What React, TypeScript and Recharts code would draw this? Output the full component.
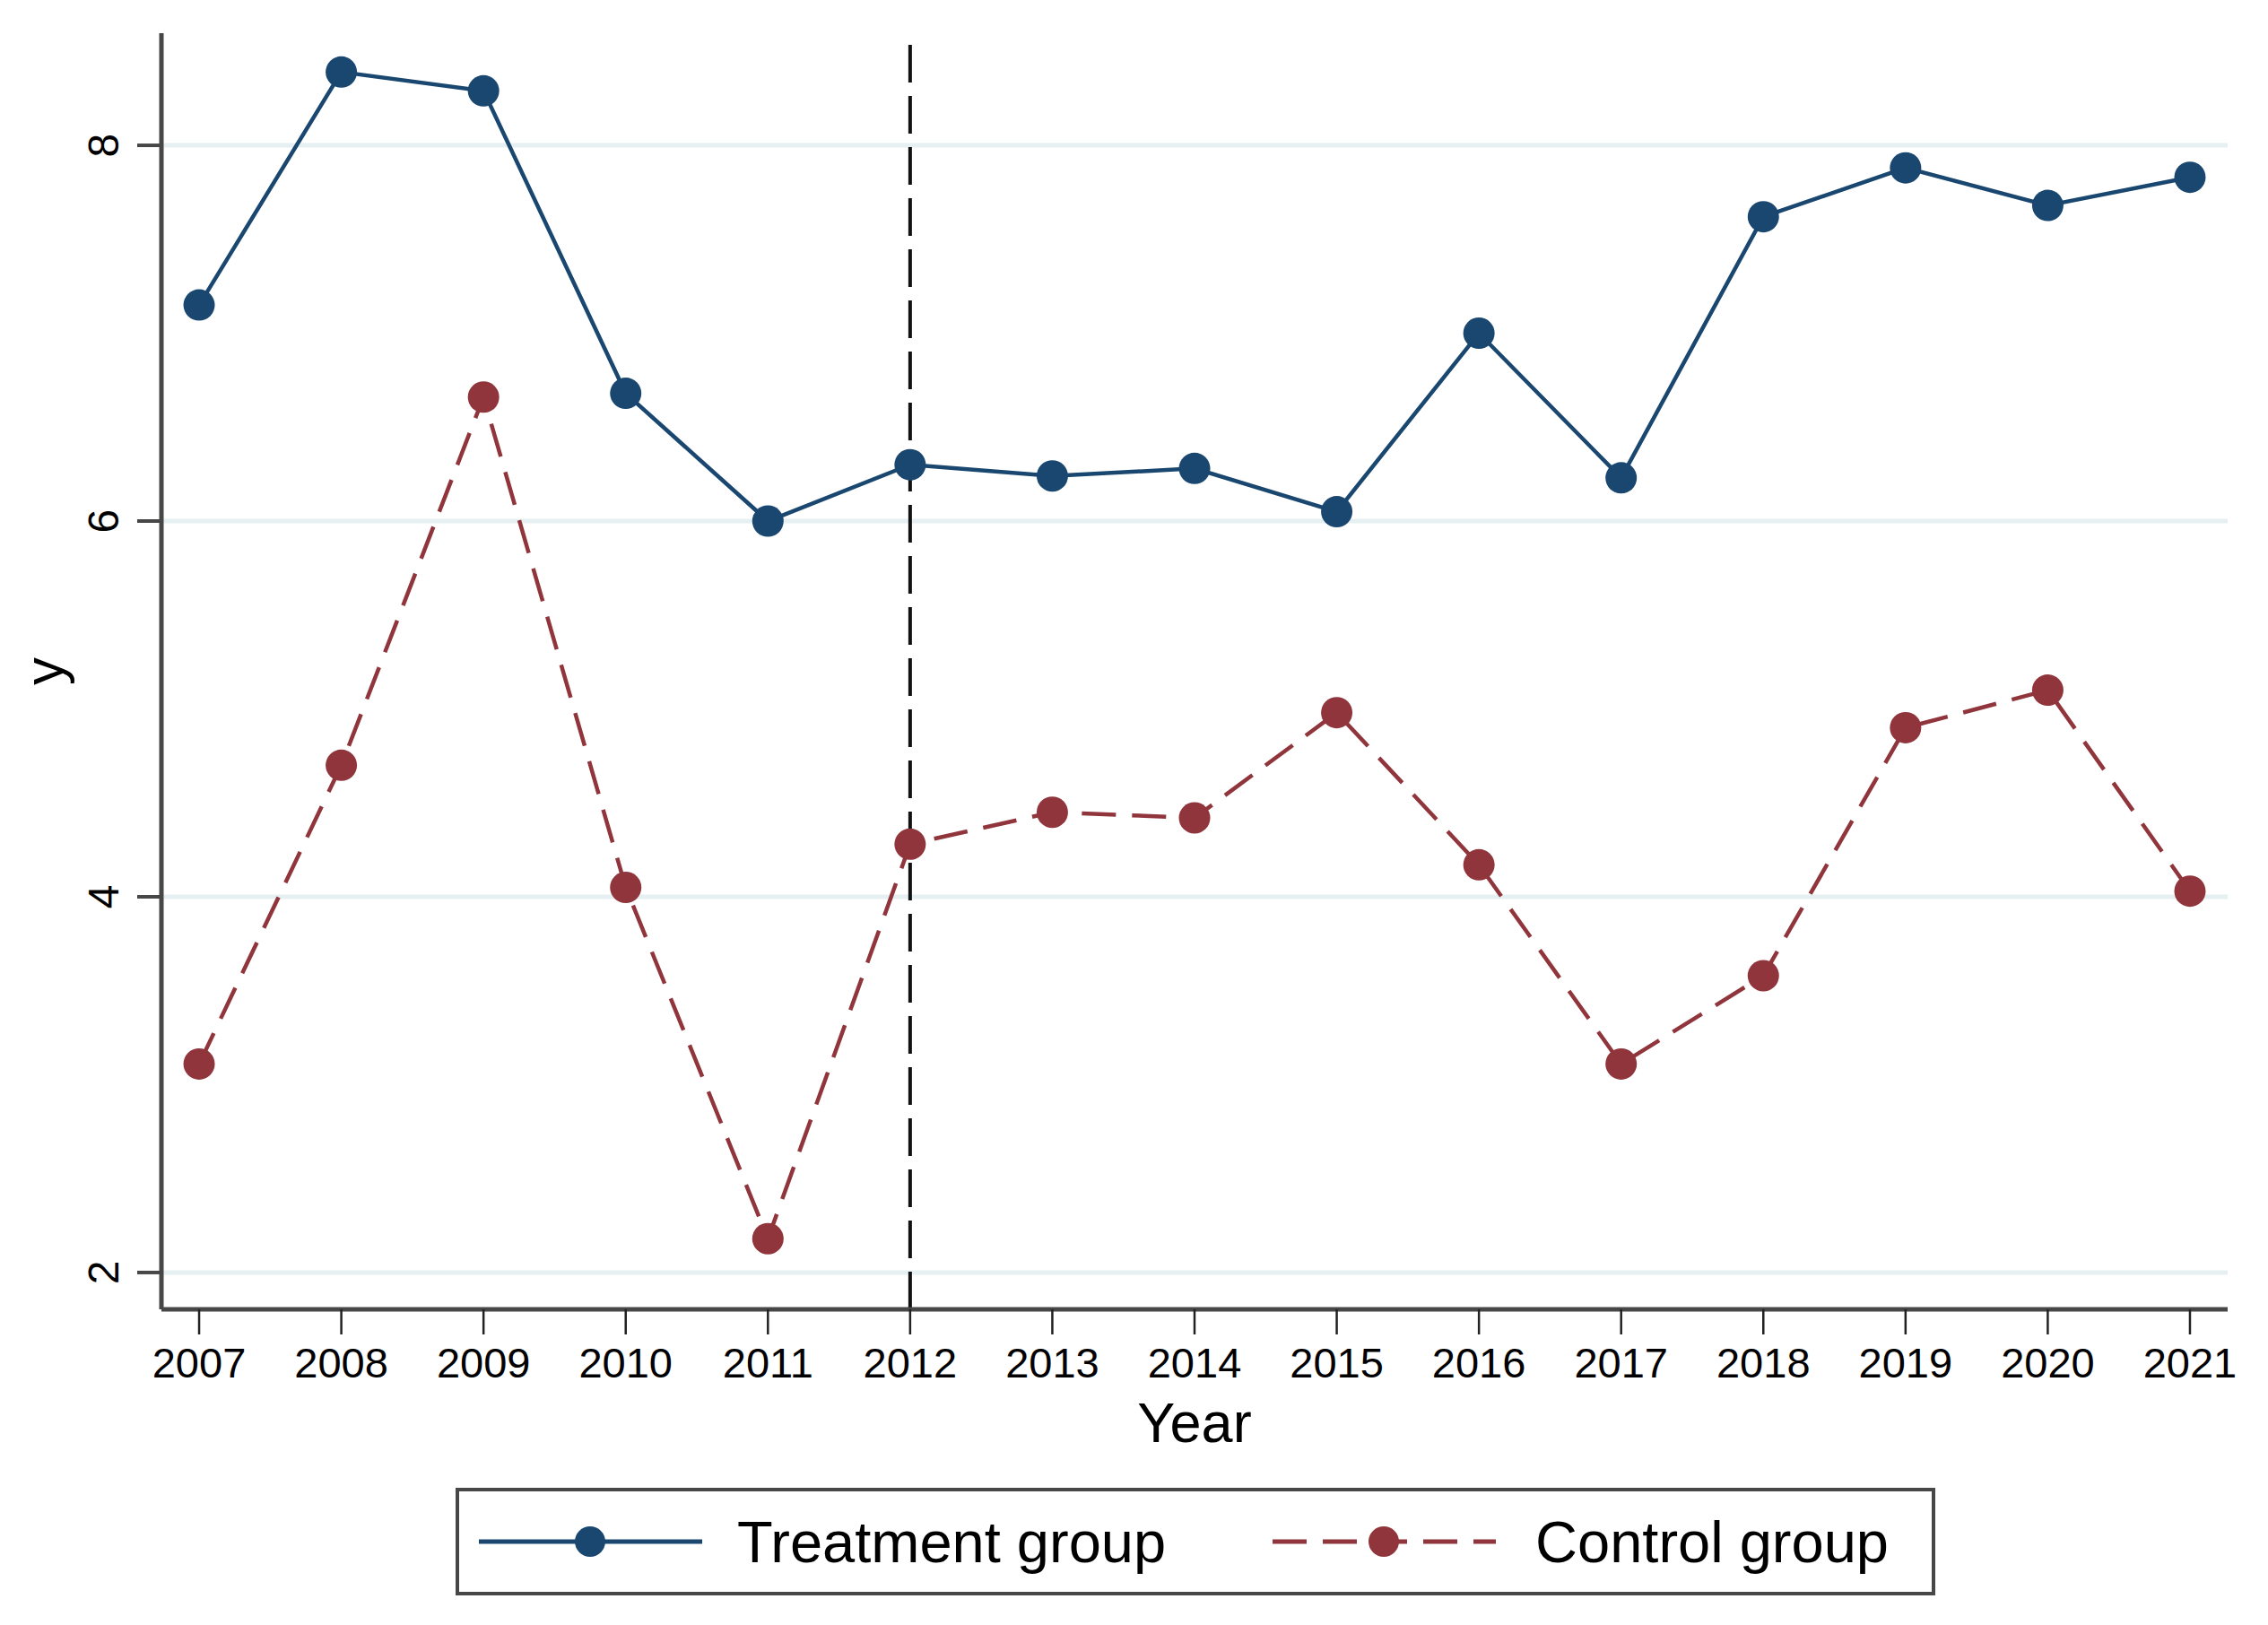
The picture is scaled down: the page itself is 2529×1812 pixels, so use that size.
import React from "react";
import {
  LineChart,
  Line,
  XAxis,
  YAxis,
  CartesianGrid,
  ReferenceLine,
  Legend,
} from "recharts";

const YEARS = [
  2007, 2008, 2009, 2010, 2011, 2012, 2013, 2014,
  2015, 2016, 2017, 2018, 2019, 2020, 2021,
];

const TREATMENT = [
  7.15, 8.39, 8.29, 6.68, 6.0, 6.3, 6.24, 6.28,
  6.05, 7.0, 6.23, 7.62, 7.88, 7.68, 7.83,
];

const CONTROL = [
  3.11, 4.7, 6.66, 4.05, 2.18, 4.28, 4.45, 4.42,
  4.98, 4.17, 3.11, 3.58, 4.9, 5.1, 4.03,
];

const Y_TICKS = [2, 4, 6, 8];
const TREATMENT_LABEL = "Treatment group";
const CONTROL_LABEL = "Control group";
const X_TITLE = "Year";
const Y_TITLE = "y";
const POLICY_YEAR = 2012;

const NAVY = "#1a476f";
const MAROON = "#90353b";
const AXIS = "#474747";
const FONT = "'Liberation Sans', Arial, sans-serif";

const data = YEARS.map((year, i) => ({
  year,
  treatment: TREATMENT[i],
  control: CONTROL[i],
}));

// y tick labels are turned on their side, Stata style
function YTick({ x, y, payload }: any) {
  return (
    <text
      x={x}
      y={y}
      transform={`rotate(-90 ${x} ${y})`}
      textAnchor="middle"
      fontSize={48}
      fontFamily={FONT}
      fill="#000"
    >
      {payload.value}
    </text>
  );
}

function LegendIcon({ color, dashed }: { color: string; dashed?: boolean }) {
  return (
    <svg width={249} height={40} style={{ display: "block" }}>
      <line
        x1={0}
        x2={249}
        y1={20}
        y2={20}
        stroke={color}
        strokeWidth={5}
        strokeDasharray={dashed ? "38 18" : undefined}
      />
      <circle cx={124} cy={20} r={17} fill={color} />
    </svg>
  );
}

function LegendBox() {
  const text = { fontSize: 65, fontFamily: FONT, color: "#000", lineHeight: 1 };
  return (
    <div
      style={{
        boxSizing: "border-box",
        width: 1650,
        height: 120,
        border: `4px solid ${AXIS}`,
        background: "#fff",
        display: "flex",
        alignItems: "center",
        paddingLeft: 22,
      }}
    >
      <LegendIcon color={NAVY} />
      <span style={{ ...text, marginLeft: 39 }}>{TREATMENT_LABEL}</span>
      <div style={{ marginLeft: 119 }}>
        <LegendIcon color={MAROON} dashed />
      </div>
      <span style={{ ...text, marginLeft: 44 }}>{CONTROL_LABEL}</span>
    </div>
  );
}

export default function App() {
  return (
    <div style={{ position: "absolute", left: 0, top: 0, background: "#fff" }}>
      <LineChart
        width={2529}
        height={1812}
        data={data}
        margin={{ top: 37, right: 45, left: 0, bottom: 152 }}
      >
        {/* light guide lines only at the labelled y values */}
        {Y_TICKS.map((v) => (
          <ReferenceLine key={v} y={v} stroke="#e6eff1" strokeWidth={5} />
        ))}
        <XAxis
          dataKey="year"
          type="number"
          domain={[2006.735, 2021.265]}
          ticks={YEARS}
          allowDataOverflow
          height={200}
          stroke={AXIS}
          strokeWidth={5}
          tickSize={28}
          tickMargin={15}
          tickLine={{ stroke: "#222", strokeWidth: 2.5 }}
          tick={{ fontSize: 47, fontFamily: FONT, fill: "#000" }}
          label={{
            content: ({ viewBox }: any) => (
              <text
                x={viewBox.x + viewBox.width / 2}
                y={viewBox.y + 148}
                textAnchor="middle"
                fontSize={63}
                fontFamily={FONT}
                fill="#000"
              >
                {X_TITLE}
              </text>
            ),
          }}
        />
        <YAxis
          type="number"
          domain={[1.804, 8.597]}
          ticks={Y_TICKS}
          allowDataOverflow
          width={180}
          stroke={AXIS}
          strokeWidth={5}
          tickSize={27}
          tickMargin={21}
          tickLine={{ stroke: AXIS, strokeWidth: 4 }}
          tick={<YTick />}
          label={{
            content: ({ viewBox }: any) => {
              const cx = 70;
              const cy = viewBox.y + viewBox.height / 2;
              return (
                <text
                  x={cx}
                  y={cy}
                  transform={`rotate(-90 ${cx} ${cy})`}
                  textAnchor="middle"
                  fontSize={62}
                  fontFamily={FONT}
                  fill="#000"
                >
                  {Y_TITLE}
                </text>
              );
            },
          }}
        />
        <ReferenceLine
          x={POLICY_YEAR}
          stroke="#111"
          strokeWidth={4}
          strokeDasharray="42 15"
        />
        <Line
          dataKey="treatment"
          name={TREATMENT_LABEL}
          stroke={NAVY}
          strokeWidth={4.5}
          dot={{ r: 17.5, fill: NAVY, stroke: "none" }}
          isAnimationActive={false}
        />
        <Line
          dataKey="control"
          name={CONTROL_LABEL}
          stroke={MAROON}
          strokeWidth={4.5}
          strokeDasharray="38 18"
          dot={{ r: 17.5, fill: MAROON, stroke: "none", strokeDasharray: "" }}
          isAnimationActive={false}
        />
        <Legend
          layout="horizontal"
          verticalAlign="middle"
          align="center"
          content={() => <LegendBox />}
          wrapperStyle={{ left: 508, top: 1659, width: 1650, height: 120 }}
        />
      </LineChart>
    </div>
  );
}
